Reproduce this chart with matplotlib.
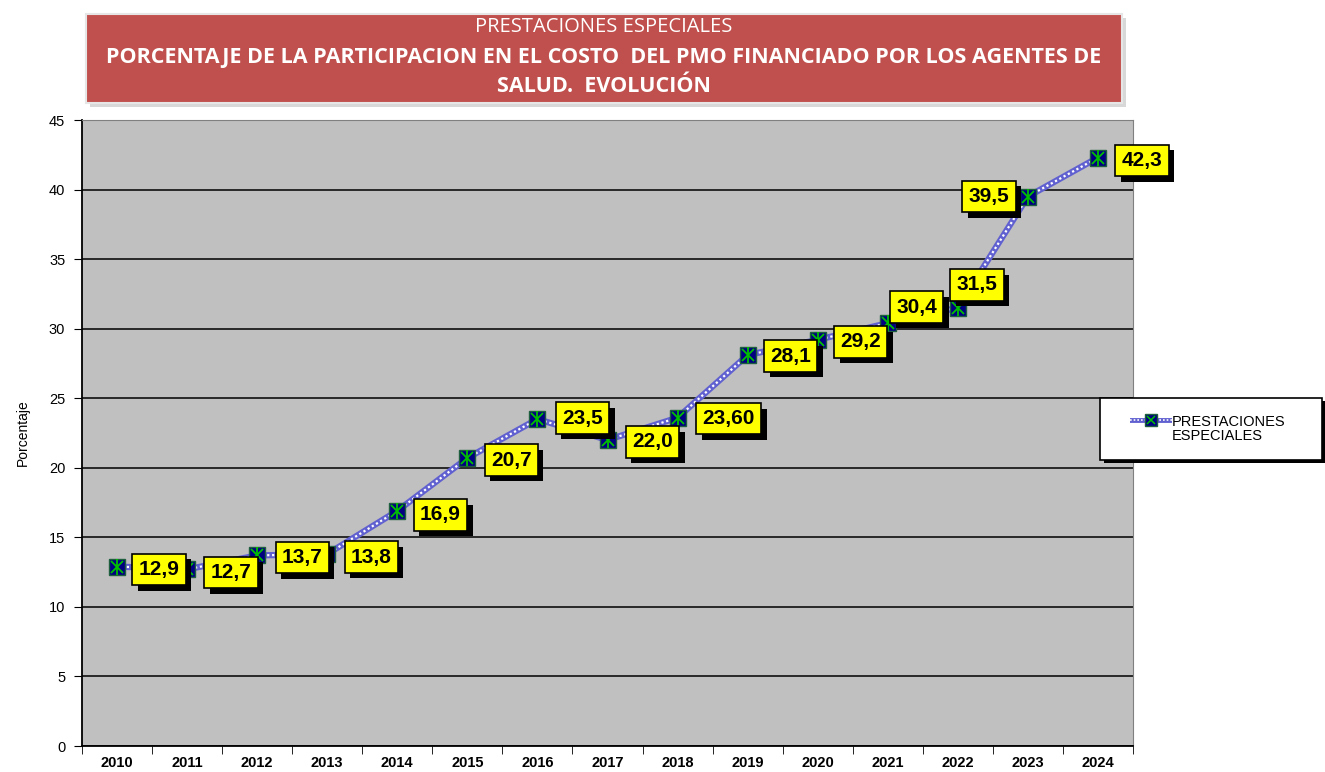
import matplotlib.pyplot as plt
from matplotlib.patches import Rectangle
import matplotlib.patheffects as pe

# datos
anios = ['2010', '2011', '2012', '2013', '2014', '2015', '2016', '2017',
         '2018', '2019', '2020', '2021', '2022', '2023', '2024']
porcentaje = [12.9, 12.7, 13.7, 13.8, 16.9, 20.7, 23.5, 22.0,
              23.6, 28.1, 29.2, 30.4, 31.5, 39.5, 42.3]
etiquetas = ['12,9', '12,7', '13,7', '13,8', '16,9', '20,7', '23,5', '22,0',
             '23,60', '28,1', '29,2', '30,4', '31,5', '39,5', '42,3']

# desplazamiento de cada etiqueta (pixeles)
desp = [(42, -3), (44, -3), (45, -2), (44, -3), (43, -4), (44, -2), (45, 1),
        (45, -2), (51, -1), (43, -1), (43, -2), (29, 16), (19, 23), (-39, 0), (44, -3)]

fig = plt.figure(figsize=(13.25, 7.72), dpi=100)
fig.patch.set_facecolor('white')

# titulo
tx0, ty0, tw, th = 86 / 1325, 1 - 103 / 772, 1036 / 1325, 89 / 772
fig.patches.append(Rectangle((tx0 + 0.003, ty0 - 0.005), tw, th, transform=fig.transFigure,
                             facecolor='#d8d8d8', edgecolor='none', zorder=0))
fig.patches.append(Rectangle((tx0, ty0), tw, th, transform=fig.transFigure,
                             facecolor='#c0504d', edgecolor='#e6e6e6', lw=1.5, zorder=1))
fuente_t = ['Open Sans', 'DejaVu Sans']
cx = tx0 + tw / 2
fig.text(cx, 1 - 27 / 772, 'PRESTACIONES ESPECIALES', ha='center', va='center',
         color='white', fontsize=14.5, family=fuente_t)
fig.text(cx, 1 - 57 / 772, 'PORCENTAJE DE LA PARTICIPACION EN EL COSTO  DEL PMO FINANCIADO POR LOS AGENTES DE',
         ha='center', va='center', color='white', fontsize=15.5, fontweight='bold', family=fuente_t)
fig.text(cx, 1 - 87 / 772, 'SALUD.  EVOLUCIÓN', ha='center', va='center',
         color='white', fontsize=15.5, fontweight='bold', family=fuente_t)

ax = fig.add_axes([82 / 1325, 26 / 772, 1051 / 1325, 626 / 772])
ax.set_facecolor('#c0c0c0')
x = list(range(len(anios)))

ax.plot(x, porcentaje, color='#6060d0', lw=4.5, zorder=3, solid_capstyle='butt')
ax.plot(x, porcentaje, color='white', lw=1.6, ls=(0, (1, 1.2)), zorder=4)
ax.plot(x, porcentaje, ls='none', marker='s', ms=12, mfc='#000080', mec='#1f5f3f', zorder=5)
ax.plot(x, porcentaje, ls='none', marker='x', ms=9, mec='#00c000', mew=1.3, zorder=6)
ax.plot(x, porcentaje, ls='none', marker='|', ms=11, mec='#00c000', mew=1.3, zorder=6)

sombra = [pe.SimplePatchShadow(offset=(4, -4), shadow_rgbFace='black', alpha=1), pe.Normal()]
for xi, yi, txt, (dx, dy) in zip(x, porcentaje, etiquetas, desp):
    an = ax.annotate(txt, (xi, yi), xytext=(dx * 0.72, dy * 0.72), textcoords='offset points',
                     ha='center', va='center', fontsize=15, fontweight='bold',
                     family='Liberation Sans', zorder=8,
                     bbox=dict(boxstyle='square,pad=0.3', fc='#ffff00', ec='black', lw=1.2))
    an.get_bbox_patch().set_path_effects(sombra)

ax.set_xlim(-0.5, len(anios) - 0.5)
ax.set_ylim(0, 45)
ax.set_yticks(range(0, 46, 5))
ax.set_xticks(x)
ax.set_xticklabels(anios, fontweight='bold', fontsize=10.5, family='Liberation Sans')
ax.set_xticks([i + 0.5 for i in range(-1, len(anios))], minor=True)
ax.tick_params(axis='x', which='major', length=0, pad=7)
ax.tick_params(axis='x', which='minor', length=6, direction='out', color='black')
ax.tick_params(axis='y', length=6, direction='out', labelsize=10.5, pad=6)
for lab in ax.get_yticklabels():
    lab.set_family('Liberation Sans')
ax.yaxis.grid(True, color='black', lw=1.1)
ax.set_axisbelow(True)
ax.spines['left'].set_color('black')
ax.spines['left'].set_linewidth(1.3)
ax.spines['bottom'].set_color('black')
ax.spines['bottom'].set_linewidth(1.3)
ax.spines['top'].set_color('#808080')
ax.spines['right'].set_color('#808080')
ax.set_ylabel('Porcentaje', fontsize=10, family='Liberation Sans', labelpad=14)

# leyenda
lx0, ly0, lw_, lh = 1100 / 1325, 1 - 460 / 772, 222 / 1325, 62 / 772
fig.patches.append(Rectangle((lx0 + 0.003, ly0 - 0.004), lw_, lh, transform=fig.transFigure,
                             facecolor='black', edgecolor='none', zorder=2))
fig.patches.append(Rectangle((lx0, ly0), lw_, lh, transform=fig.transFigure,
                             facecolor='white', edgecolor='black', lw=1.2, zorder=3))
lax = fig.add_axes([1130 / 1325, 1 - 430 / 772, 42 / 1325, 20 / 772])
lax.set_zorder(10)
lax.patch.set_alpha(0)
lax.set_xlim(0, 1)
lax.set_ylim(0, 1)
lax.axis('off')
lax.plot([0, 1], [0.5, 0.5], color='#6060d0', lw=3.5)
lax.plot([0, 1], [0.5, 0.5], color='white', lw=1.2, ls=(0, (1, 1.2)))
lax.plot([0.5], [0.5], marker='s', ms=8, mfc='#000080', mec='#1f5f3f')
lax.plot([0.5], [0.5], marker='x', ms=6, mec='#00c000', mew=1.1)
fig.text(1172 / 1325, 1 - 429 / 772, 'PRESTACIONES\nESPECIALES', ha='left', va='center',
         fontsize=10.5, family='Liberation Sans', linespacing=1.0, zorder=5)

fig.savefig('out.png', dpi=100)
